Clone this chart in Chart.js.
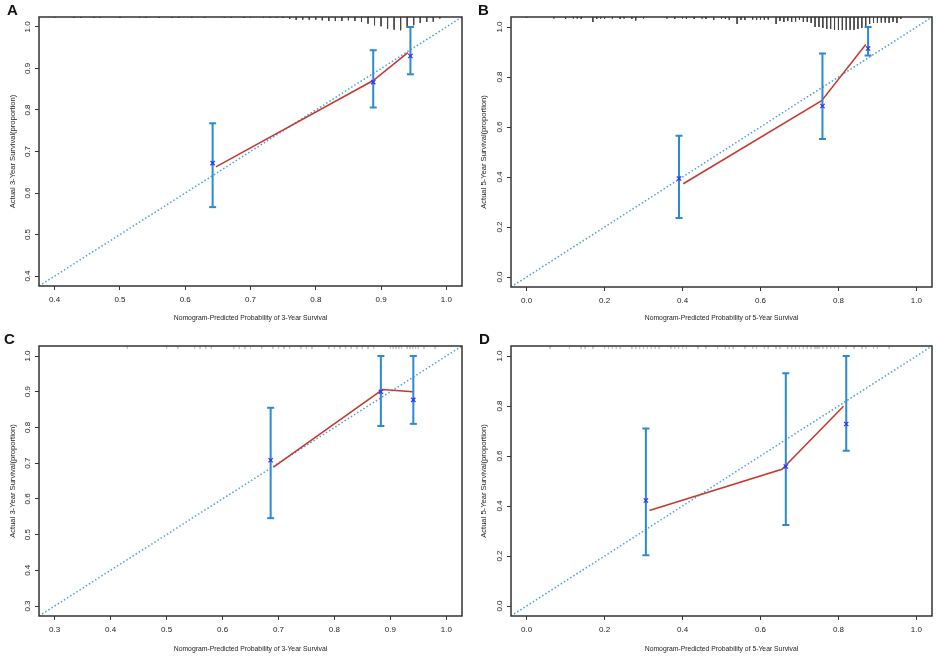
<!DOCTYPE html>
<html>
<head>
<meta charset="utf-8">
<script src="https://cdn.jsdelivr.net/npm/chart.js@4.4.1/dist/chart.umd.min.js"></script>
<style>
body{margin:0;background:#fff;width:938px;height:657px;position:relative;overflow:hidden;font-family:"Liberation Sans",Arial,sans-serif}
canvas{position:absolute}
.tag{position:absolute;font-weight:bold;font-size:15px;line-height:15px;color:#111}
</style>
</head>
<body>
<canvas id="cA" width="469" height="330" style="left:0;top:0"></canvas>
<canvas id="cB" width="469" height="330" style="left:469px;top:0"></canvas>
<canvas id="cC" width="469" height="327" style="left:0;top:330px"></canvas>
<canvas id="cD" width="469" height="327" style="left:469px;top:330px"></canvas>
<div class="tag" style="left:7px;top:2px">A</div>
<div class="tag" style="left:478px;top:2px">B</div>
<div class="tag" style="left:4px;top:331px">C</div>
<div class="tag" style="left:479px;top:331px">D</div>
<script>
// A: 3-year, B: 5-year (top row); C: 3-year, D: 5-year (bottom row)
var limA = [0.4, 1.0], ticksA = [0.4, 0.5, 0.6, 0.7, 0.8, 0.9, 1.0];
var limB = [0.0, 1.0], ticksB = [0.0, 0.2, 0.4, 0.6, 0.8, 1.0];
var limC = [0.3, 1.0], ticksC = [0.3, 0.4, 0.5, 0.6, 0.7, 0.8, 0.9, 1.0];
var limD = [0.0, 1.0], ticksD = [0.0, 0.2, 0.4, 0.6, 0.8, 1.0];

// observed (x marks) with 95% CI bars
var predA = [0.642, 0.888, 0.945], obsA = [0.672, 0.867, 0.930], loA = [0.566, 0.806, 0.886], hiA = [0.768, 0.944, 1.000];
var predB = [0.391, 0.759, 0.876], obsB = [0.394, 0.684, 0.914], loB = [0.236, 0.552, 0.886], hiB = [0.565, 0.894, 1.000];
var predC = [0.686, 0.883, 0.941], obsC = [0.708, 0.900, 0.877], loC = [0.546, 0.804, 0.810], hiC = [0.855, 1.000, 1.000];
var predD = [0.306, 0.665, 0.820], obsD = [0.422, 0.558, 0.728], loD = [0.203, 0.324, 0.621], hiD = [0.710, 0.931, 1.000];

// red calibration curve
var curveXA = [0.647, 0.888, 0.941], curveYA = [0.663, 0.871, 0.938];
var curveXB = [0.402, 0.757, 0.870], curveYB = [0.373, 0.705, 0.930];
var curveXC = [0.691, 0.886, 0.940], curveYC = [0.689, 0.906, 0.900];
var curveXD = [0.315, 0.655, 0.813], curveYD = [0.382, 0.547, 0.799];

// rug of predicted values along the top (relative frequency)
var rugXA = [0.40, 0.43, 0.44, 0.46, 0.47, 0.50, 0.53, 0.54, 0.56, 0.58, 0.59, 0.61, 0.63, 0.66, 0.67, 0.69, 0.70, 0.72, 0.73, 0.74, 0.75,
             0.76, 0.77, 0.78, 0.79, 0.80, 0.81, 0.82, 0.83, 0.84, 0.85, 0.86, 0.87, 0.88, 0.89, 0.90, 0.91, 0.92, 0.93, 0.94, 0.95, 0.96, 0.97, 0.98, 0.99];
var rugNA = [1, 1, 1, 1, 1, 1, 1, 1, 1, 1, 1, 1, 1, 1, 1, 1, 1, 1, 1, 1, 1,
             2, 3, 2.7, 2.7, 2.7, 3.3, 4, 4, 4, 3.3, 4, 5, 6.7, 8.3, 9.3, 11.7, 12.7, 13.3, 10.7, 8.3, 6, 5, 4.7, 1.5];
var rugXB = [0.00, 0.07, 0.10, 0.12, 0.13, 0.14, 0.17, 0.18, 0.19, 0.20, 0.22, 0.24, 0.25, 0.27, 0.28, 0.30, 0.36, 0.38, 0.40, 0.41, 0.43, 0.45, 0.46, 0.48,
             0.50, 0.51, 0.52, 0.54, 0.55, 0.56, 0.58, 0.59, 0.60, 0.61, 0.62, 0.64, 0.65, 0.66, 0.67, 0.68, 0.69, 0.70, 0.71, 0.72, 0.73, 0.74, 0.75, 0.76,
             0.77, 0.78, 0.79, 0.80, 0.81, 0.82, 0.83, 0.84, 0.85, 0.86, 0.87, 0.88, 0.89, 0.90, 0.91, 0.92, 0.93, 0.94, 0.95, 0.96];
var rugNB = [1, 1.5, 2, 1.5, 1.5, 2, 5, 2, 1.5, 2, 1.5, 2, 1.5, 2, 3.5, 1.5, 1.5, 2, 1.5, 2, 2, 1.5, 2, 3,
             2, 2, 3, 7, 3, 3, 2.5, 3, 2.5, 3, 2.5, 7, 4, 5, 4, 5, 4.5, 3, 5, 5, 6, 10, 10, 11,
             12, 12, 13, 13, 13, 13, 13, 13, 12, 11, 10, 7, 6, 6, 5.5, 5.5, 6, 5, 6, 2];
var rugXC = [0.43, 0.50, 0.52, 0.55, 0.56, 0.57, 0.58, 0.62, 0.63, 0.64, 0.65, 0.67, 0.69, 0.70, 0.71, 0.72, 0.74, 0.75, 0.76, 0.79, 0.80,
             0.81, 0.82, 0.83, 0.84, 0.85, 0.86, 0.87, 0.90, 0.905, 0.91, 0.915, 0.92, 0.93, 0.935, 0.94, 0.945, 0.95, 0.96, 0.98];
var rugXD = [0.06, 0.11, 0.14, 0.15, 0.17, 0.20, 0.21, 0.22, 0.23, 0.24, 0.27, 0.28, 0.29, 0.30, 0.31, 0.32, 0.33, 0.34, 0.37, 0.38, 0.39, 0.40,
             0.41, 0.44, 0.46, 0.49, 0.51, 0.52, 0.53, 0.56, 0.58, 0.59, 0.61, 0.62, 0.64, 0.65, 0.67, 0.68, 0.69, 0.70, 0.71, 0.72, 0.73, 0.74,
             0.745, 0.75, 0.76, 0.77, 0.78, 0.79, 0.80, 0.82, 0.84, 0.86, 0.87, 0.89, 0.90, 0.93];

var FONT = '"Liberation Sans", Arial, sans-serif';

var framePlugin = {
  id: 'frame',
  afterDatasetsDraw: function(chart) {
    var a = chart.chartArea, c = chart.ctx;
    c.save();
    c.strokeStyle = '#333';
    c.lineWidth = 1.5;
    c.strokeRect(a.left, a.top, a.right - a.left, a.bottom - a.top);
    c.restore();
  }
};

function panel(id, o) {
  var pad = 0.04 * (o.lim[1] - o.lim[0]);
  var min = o.lim[0] - pad, max = o.lim[1] + pad;
  var unit = (max - min) / 270;

  var rug = [];
  o.rugX.forEach(function(x, i) {
    var n = o.rugN ? o.rugN[i] : 3;
    rug.push({x: x, y: max}, {x: x, y: max - n * unit}, {x: x, y: null});
  });
  var bars = [];
  o.pred.forEach(function(x, i) {
    bars.push({x: x, y: o.lo[i]}, {x: x, y: o.hi[i]}, {x: x, y: null});
  });
  var marks = o.pred.map(function(x, i) { return {x: x, y: o.obs[i]}; });
  var curve = o.cx.map(function(x, i) { return {x: x, y: o.cy[i]}; });
  var diag = [{x: min, y: min}, {x: max, y: max}];

  var tickList = function(s) { s.ticks = o.ticks.map(function(v) { return {value: v}; }); };

  new Chart(document.getElementById(id), {
    type: 'line',
    data: {
      datasets: [
        {data: marks, showLine: false, pointStyle: 'crossRot', pointRadius: 3, pointBorderWidth: 1.3,
         pointBorderColor: '#2f2fff', pointBackgroundColor: '#2f2fff', order: 0},
        {data: bars, borderColor: '#2a8ad4', borderWidth: 2, pointStyle: 'line', pointRadius: 3.5,
         pointBorderWidth: 2, pointBorderColor: '#2a8ad4', spanGaps: false, order: 1},
        {data: curve, borderColor: '#c4392b', borderWidth: 1.5, pointRadius: 0, order: 2},
        {data: diag, borderColor: '#4a9ee0', borderWidth: 1.5, borderDash: [1.5, 2.2], pointRadius: 0, order: 3},
        {data: rug, borderColor: o.rugColor, borderWidth: 1, pointRadius: 0, spanGaps: false, order: 4}
      ]
    },
    options: {
      responsive: false,
      animation: false,
      events: [],
      layout: {padding: {top: o.top, right: o.right, left: 0, bottom: 0}},
      plugins: {legend: {display: false}, tooltip: {enabled: false}},
      scales: {
        x: {
          type: 'linear', min: min, max: max,
          afterBuildTicks: tickList,
          afterFit: function(s) { s.height = o.xh; },
          ticks: {callback: function(v) { return v.toFixed(1); }, font: {family: FONT, size: 8}, color: '#222',
                  padding: 5, maxRotation: 0, autoSkip: false},
          grid: {drawOnChartArea: false, drawTicks: true, tickLength: 4, tickColor: '#333', color: '#333'},
          border: {display: false},
          title: {display: true, text: o.xTitle, font: {family: FONT, size: 6.8}, color: '#222',
                  padding: {top: 0, bottom: o.xTitlePad}}
        },
        y: {
          type: 'linear', min: min, max: max,
          afterBuildTicks: tickList,
          afterFit: function(s) { s.width = o.yw; },
          ticks: {callback: function(v) { return v.toFixed(1); }, font: {family: FONT, size: 8}, color: '#222',
                  padding: 2, minRotation: 90, maxRotation: 90, crossAlign: 'center', autoSkip: false},
          grid: {drawOnChartArea: false, drawTicks: true, tickLength: 4, tickColor: '#333', color: '#333'},
          border: {display: false},
          title: {display: true, text: o.yTitle, font: {family: FONT, size: 7.6}, color: '#222',
                  padding: {top: o.yTitlePad, bottom: 0}}
        }
      }
    },
    plugins: [framePlugin]
  });
}

panel('cA', {lim: limA, ticks: ticksA, pred: predA, obs: obsA, lo: loA, hi: hiA, cx: curveXA, cy: curveYA,
  rugX: rugXA, rugN: rugNA, rugColor: '#444',
  xTitle: 'Nomogram-Predicted Probability of 3-Year Survival', yTitle: 'Actual 3-Year Survival(proportion)',
  top: 17, right: 7, xh: 44, yw: 39, xTitlePad: 8, yTitlePad: 8});
panel('cB', {lim: limB, ticks: ticksB, pred: predB, obs: obsB, lo: loB, hi: hiB, cx: curveXB, cy: curveYB,
  rugX: rugXB, rugN: rugNB, rugColor: '#444',
  xTitle: 'Nomogram-Predicted Probability of 5-Year Survival', yTitle: 'Actual 5-Year Survival(proportion)',
  top: 17, right: 4, xh: 43, yw: 42, xTitlePad: 8, yTitlePad: 10});
panel('cC', {lim: limC, ticks: ticksC, pred: predC, obs: obsC, lo: loC, hi: hiC, cx: curveXC, cy: curveYC,
  rugX: rugXC, rugN: null, rugColor: '#c4c4c4',
  xTitle: 'Nomogram-Predicted Probability of 3-Year Survival', yTitle: 'Actual 3-Year Survival(proportion)',
  top: 16, right: 7, xh: 41, yw: 39, xTitlePad: 4, yTitlePad: 8});
panel('cD', {lim: limD, ticks: ticksD, pred: predD, obs: obsD, lo: loD, hi: hiD, cx: curveXD, cy: curveYD,
  rugX: rugXD, rugN: null, rugColor: '#c4c4c4',
  xTitle: 'Nomogram-Predicted Probability of 5-Year Survival', yTitle: 'Actual 5-Year Survival(proportion)',
  top: 16, right: 4, xh: 41, yw: 42, xTitlePad: 4, yTitlePad: 10});
</script>
</body>
</html>
